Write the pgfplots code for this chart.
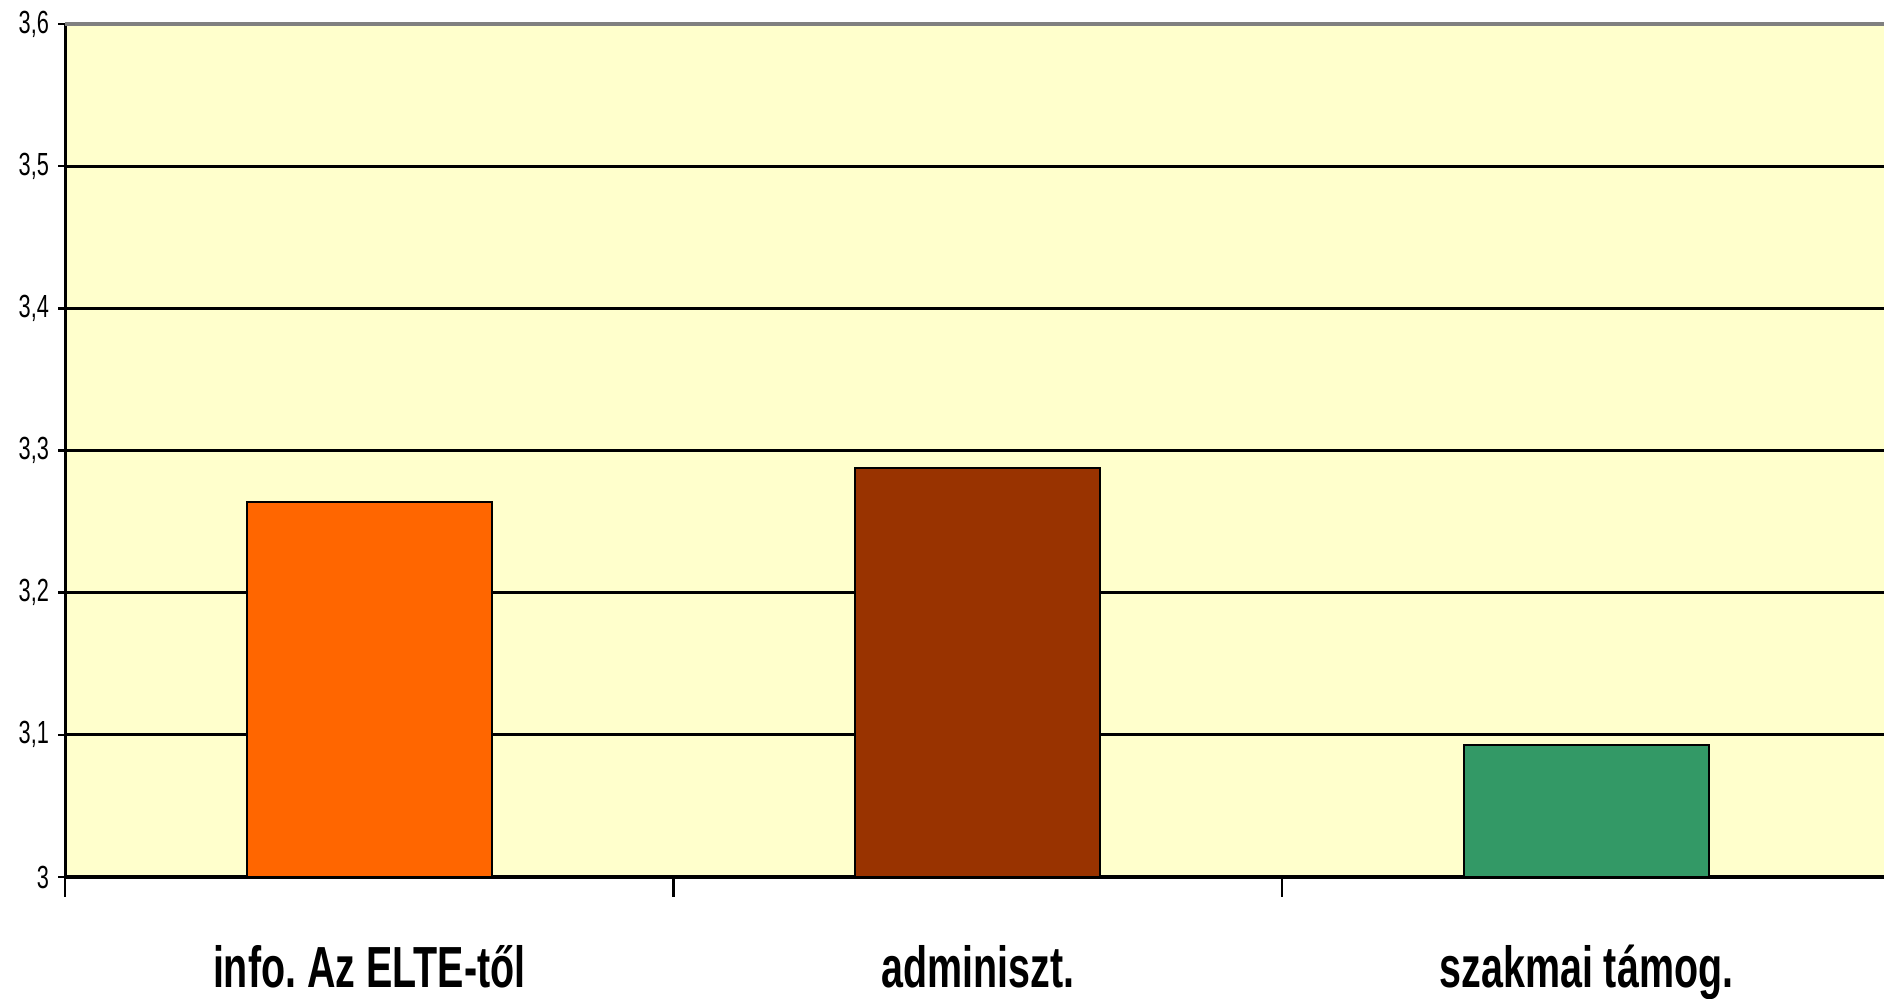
\documentclass[border=0pt]{standalone}
\usepackage{pgfplots}
\pgfplotsset{compat=1.18}
\usepackage{fontspec}
\setmainfont{Liberation Sans}[FakeStretch=0.68]
\frenchspacing
\definecolor{bgy}{HTML}{FFFFCC}
\definecolor{corange}{HTML}{FF6600}
\definecolor{cbrown}{HTML}{993300}
\definecolor{cgreen}{HTML}{339966}
\definecolor{cgray}{HTML}{808080}
\begin{document}
\begin{tikzpicture}
\useasboundingbox (0,0) rectangle (942pt,499.5pt);
\begin{axis}[
  at={(32.5pt,61pt)}, anchor=south west,
  scale only axis,
  width=909.5pt, height=426.5pt,
  xmin=0, xmax=2.989, ymin=3, ymax=3.6,
  axis background/.style={fill=bgy},
  axis lines*=left,
  axis line style={black, line width=1.5pt, -},
  ytick={3,3.1,3.2,3.3,3.4,3.5,3.6},
  ymajorgrids,
  grid style={black, line width=1.6pt},
  tick align=outside,
  major tick length=3.5pt,
  tick style={black, line width=1.3pt},
  xtick={0,1,2},
  xticklabels={},
  xtick style={/pgfplots/major tick length=10pt},
  extra x ticks={0.5,1.5,2.5},
  extra x tick labels={info. Az ELTE-től, adminiszt., szakmai támog.},
  extra x tick style={tick style={draw=none}, xticklabel style={font=\fontsize{29pt}{32pt}\selectfont\bfseries, yshift=-27pt}},
  yticklabel style={font=\fontsize{16pt}{18pt}\selectfont, xshift=-1pt},
  /pgf/number format/assume math mode=true,
  /pgf/number format/use comma,
  /pgf/number format/fixed,
  /pgf/number format/precision=1,
  ybar, bar width=0.403, bar shift=0pt,
  clip=false,
]
\addplot[fill=corange, draw=black, line width=1pt] coordinates {(0.5,3.264)};
\addplot[fill=cbrown, draw=black, line width=1pt] coordinates {(1.5,3.288)};
\addplot[fill=cgreen, draw=black, line width=1pt] coordinates {(2.5,3.093)};
\draw[cgray, line width=1.6pt] (rel axis cs:0,1) -- (rel axis cs:1,1);
\end{axis}
\end{tikzpicture}
\end{document}
